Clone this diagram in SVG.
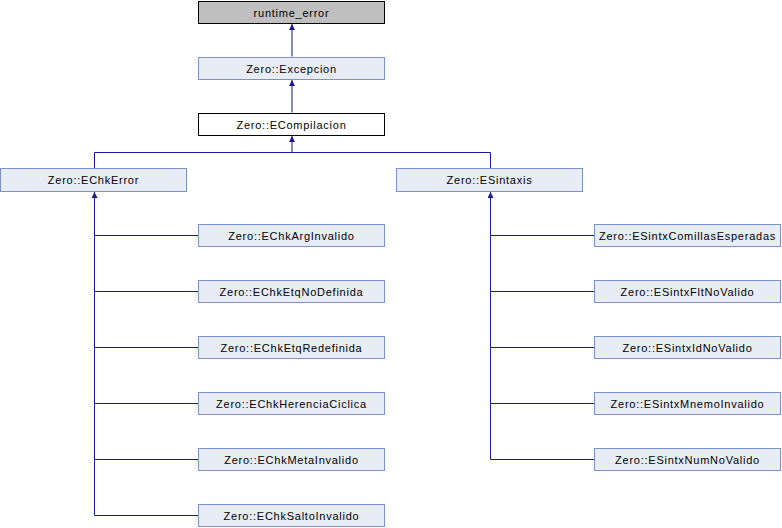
<svg xmlns="http://www.w3.org/2000/svg" width="782" height="528" viewBox="0 0 782 528">
<style>
.n rect{fill:#E8ECF5;stroke:#7B92C8;stroke-width:1}
.gray rect{fill:#BFBFBF;stroke:#000}
.cur rect{fill:#fff;stroke:#000}
text{font-family:"Liberation Sans",Arial,sans-serif;font-size:11px;letter-spacing:0.75px;text-anchor:middle;fill:#000}
.e{stroke:#191996;stroke-width:1;fill:none}
</style>
<defs>
<marker id="a" viewBox="0 0 10 10" refX="10" refY="5" markerWidth="6" markerHeight="6" markerUnits="userSpaceOnUse" orient="auto">
<path d="M0,0 L10,5 L0,10 z" fill="#191996"/>
</marker>
</defs>
<g id="connectors">
<path class="e" d="M292,56.5 V24" marker-end="url(#a)"/>
<path class="e" d="M292,112.5 V80" marker-end="url(#a)"/>
<path class="e" d="M94.5,168 V152.5 H490.5 V168"/>
<path class="e" d="M292,152.5 V136" marker-end="url(#a)"/>
<path class="e" d="M94.5,515.5 V192" marker-end="url(#a)"/>
<path class="e" d="M94.5,235.5 H198 M94.5,291.5 H198 M94.5,347.5 H198 M94.5,403.5 H198 M94.5,459.5 H198 M94.5,515.5 H198"/>
<path class="e" d="M490.5,459.5 V192" marker-end="url(#a)"/>
<path class="e" d="M490.5,235.5 H594 M490.5,291.5 H594 M490.5,347.5 H594 M490.5,403.5 H594 M490.5,459.5 H594"/>
</g>
<g id="runtime_error" class="gray"><rect x="198.5" y="1.5" width="186" height="22"/><text x="291.5" y="16.5">runtime_error</text></g>
<g id="Excepcion" class="n"><rect x="198.5" y="57.5" width="186" height="22"/><text x="291.5" y="72.5">Zero::Excepcion</text></g>
<g id="ECompilacion" class="cur"><rect x="198.5" y="113.5" width="186" height="22"/><text x="291.5" y="128.5">Zero::ECompilacion</text></g>
<g id="EChkError" class="n"><rect x="0.5" y="168.5" width="186" height="23"/><text x="93.5" y="184">Zero::EChkError</text></g>
<g id="ESintaxis" class="n"><rect x="396.5" y="168.5" width="186" height="23"/><text x="489.5" y="184">Zero::ESintaxis</text></g>
<g id="EChkArgInvalido" class="n"><rect x="198.5" y="224.5" width="186" height="22"/><text x="291.5" y="239.5">Zero::EChkArgInvalido</text></g>
<g id="EChkEtqNoDefinida" class="n"><rect x="198.5" y="280.5" width="186" height="22"/><text x="291.5" y="295.5">Zero::EChkEtqNoDefinida</text></g>
<g id="EChkEtqRedefinida" class="n"><rect x="198.5" y="336.5" width="186" height="22"/><text x="291.5" y="351.5">Zero::EChkEtqRedefinida</text></g>
<g id="EChkHerenciaCiclica" class="n"><rect x="198.5" y="392.5" width="186" height="22"/><text x="291.5" y="407.5">Zero::EChkHerenciaCiclica</text></g>
<g id="EChkMetaInvalido" class="n"><rect x="198.5" y="448.5" width="186" height="22"/><text x="291.5" y="463.5">Zero::EChkMetaInvalido</text></g>
<g id="EChkSaltoInvalido" class="n"><rect x="198.5" y="504.5" width="186" height="22"/><text x="291.5" y="519.5">Zero::EChkSaltoInvalido</text></g>
<g id="ESintxComillasEsperadas" class="n"><rect x="594.5" y="224.5" width="186" height="22"/><text x="687.5" y="239.5">Zero::ESintxComillasEsperadas</text></g>
<g id="ESintxFltNoValido" class="n"><rect x="594.5" y="280.5" width="186" height="22"/><text x="687.5" y="295.5">Zero::ESintxFltNoValido</text></g>
<g id="ESintxIdNoValido" class="n"><rect x="594.5" y="336.5" width="186" height="22"/><text x="687.5" y="351.5">Zero::ESintxIdNoValido</text></g>
<g id="ESintxMnemoInvalido" class="n"><rect x="594.5" y="392.5" width="186" height="22"/><text x="687.5" y="407.5">Zero::ESintxMnemoInvalido</text></g>
<g id="ESintxNumNoValido" class="n"><rect x="594.5" y="448.5" width="186" height="22"/><text x="687.5" y="463.5">Zero::ESintxNumNoValido</text></g>
</svg>
